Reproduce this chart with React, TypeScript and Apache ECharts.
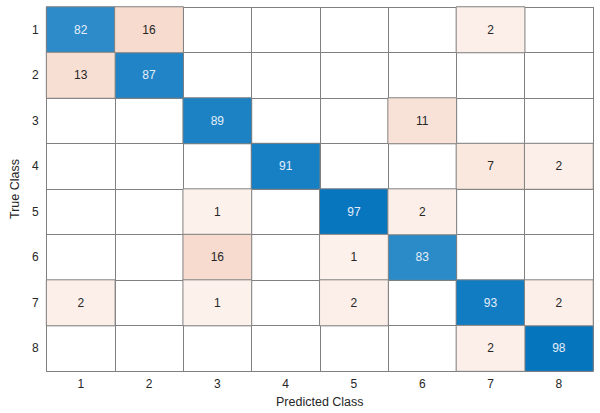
import React, { useEffect, useRef } from "react";
import * as echarts from "echarts";

const classes = ["1", "2", "3", "4", "5", "6", "7", "8"];
const xTitle = "Predicted Class";
const yTitle = "True Class";
// rows = true class, columns = predicted class
const row1 = [82, 16, 0, 0, 0, 0, 2, 0];
const row2 = [13, 87, 0, 0, 0, 0, 0, 0];
const row3 = [0, 0, 89, 0, 0, 11, 0, 0];
const row4 = [0, 0, 0, 91, 0, 0, 7, 2];
const row5 = [0, 0, 1, 0, 97, 2, 0, 0];
const row6 = [0, 0, 16, 0, 1, 83, 0, 0];
const row7 = [2, 0, 1, 0, 2, 0, 93, 2];
const row8 = [0, 0, 0, 0, 0, 0, 2, 98];
const matrix = [row1, row2, row3, row4, row5, row6, row7, row8];

export default function App() {
  const ref = useRef<HTMLDivElement>(null);
  useEffect(() => {
    if (!ref.current) return;
    const chart = echarts.init(ref.current, null, { renderer: "svg" });
    const diag: number[][] = [];
    const off: number[][] = [];
    matrix.forEach((row, r) =>
      row.forEach((v, c) => {
        if (v === 0) return;
        if (r === c) diag.push([c, r, v]);
        else off.push([c, r, v]);
      })
    );
    const font = "Liberation Sans, Arial, sans-serif";
    chart.setOption({
      animation: false,
      backgroundColor: "#ffffff",
      grid: { left: 34, top: 7, right: 7, bottom: 39 },
      xAxis: {
        type: "category",
        data: classes,
        name: xTitle,
        nameLocation: "middle",
        nameGap: 21,
        nameTextStyle: { color: "#262626", fontSize: 12.5, fontFamily: font },
        axisLine: { show: true, lineStyle: { color: "#808080", width: 1 } },
        axisTick: { show: false },
        axisLabel: { color: "#262626", fontSize: 12, fontFamily: font, margin: 7 },
        splitLine: { show: true, lineStyle: { color: "#808080", width: 1 } },
      },
      yAxis: {
        type: "category",
        data: classes,
        inverse: true,
        name: yTitle,
        nameLocation: "middle",
        nameGap: 21,
        nameTextStyle: { color: "#262626", fontSize: 12.5, fontFamily: font },
        axisLine: { show: true, lineStyle: { color: "#808080", width: 1 } },
        axisTick: { show: false },
        axisLabel: { color: "#262626", fontSize: 12, fontFamily: font, margin: 8 },
        splitLine: { show: true, lineStyle: { color: "#808080", width: 1 } },
      },
      visualMap: [
        {
          type: "continuous",
          show: false,
          seriesIndex: 0,
          dimension: 2,
          min: 0,
          max: 100,
          inRange: { color: ["#ffffff", "#0072BD"] },
        },
        {
          type: "continuous",
          show: false,
          seriesIndex: 1,
          dimension: 2,
          min: 0,
          max: 16,
          inRange: { color: ["#fdf2ed", "#f6dbce"] },
        },
      ],
      series: [
        {
          type: "heatmap",
          data: diag,
          label: { show: true, color: "#e3eef9", fontSize: 12, fontFamily: font },
          itemStyle: { borderColor: "#808080", borderWidth: 1 },
          emphasis: { disabled: true },
        },
        {
          type: "heatmap",
          data: off,
          label: { show: true, color: "#262626", fontSize: 12, fontFamily: font },
          itemStyle: { borderColor: "#808080", borderWidth: 1 },
          emphasis: { disabled: true },
        },
      ],
    });
    return () => chart.dispose();
  }, []);
  return (
    <div
      ref={ref}
      style={{ position: "absolute", left: 0, top: 0, width: 600, height: 413 }}
    />
  );
}
